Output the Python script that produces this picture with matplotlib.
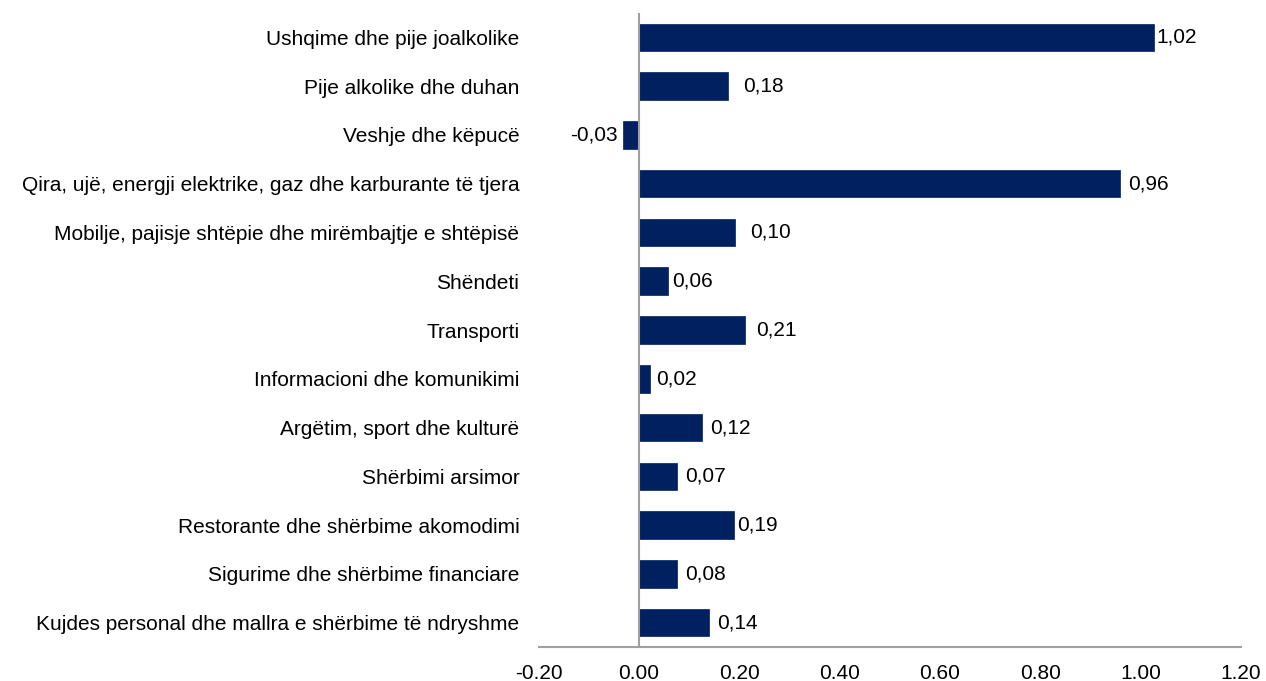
import matplotlib
matplotlib.use("Agg")
import matplotlib.pyplot as plt

categories = [
    "Ushqime dhe pije joalkolike",
    "Pije alkolike dhe duhan",
    "Veshje dhe këpucë",
    "Qira, ujë, energji elektrike, gaz dhe karburante të tjera",
    "Mobilje, pajisje shtëpie dhe mirëmbajtje e shtëpisë",
    "Shëndeti",
    "Transporti",
    "Informacioni dhe komunikimi",
    "Argëtim, sport dhe kulturë",
    "Shërbimi arsimor",
    "Restorante dhe shërbime akomodimi",
    "Sigurime dhe shërbime financiare",
    "Kujdes personal dhe mallra e shërbime të ndryshme",
]
# bar lengths as drawn
values = [1.026, 0.178, -0.0325, 0.96, 0.191, 0.057, 0.211, 0.021, 0.125, 0.075, 0.19, 0.076, 0.139]
# data labels as printed
value_labels = ["1,02", "0,18", "-0,03", "0,96", "0,10", "0,06", "0,21", "0,02", "0,12", "0,07", "0,19", "0,08", "0,14"]
xticks = [-0.20, 0.00, 0.20, 0.40, 0.60, 0.80, 1.00, 1.20]
xtick_labels = ["-0.20", "0.00", "0.20", "0.40", "0.60", "0.80", "1.00", "1.20"]

# label padding in points (layout only)
label_pads = [2.2, 10.6, 3.6, 5.8, 11.3, 3.3, 8.2, 5.1, 5.8, 6.0, 2.2, 6.0, 5.8]

FS = 15
plt.rcParams['font.family'] = ['Liberation Sans', 'DejaVu Sans']

fig = plt.figure(figsize=(12.66, 6.81), dpi=100)
x0, x1 = 538.7, 1240.8
ytop, ybot = 13, 647
ax = fig.add_axes([x0/1266, 1 - ybot/681, (x1-x0)/1266, (ybot-ytop)/681])

ypos = list(range(len(categories)))
bars = ax.barh(ypos, values, height=0.566, color="#002060", edgecolor="#002060", linewidth=0.5, zorder=2)

for b, v, lab, pad in zip(bars, values, value_labels, label_pads):
    y = b.get_y() + b.get_height() / 2
    if v >= 0:
        ax.annotate(lab, (v, y), xytext=(pad, 0), textcoords="offset points",
                    ha="left", va="center", fontsize=FS, color="black")
    else:
        ax.annotate(lab, (v, y), xytext=(-pad, 0), textcoords="offset points",
                    ha="right", va="center", fontsize=FS, color="black")

ax.set_xlim(-0.20, 1.20)
ax.set_ylim(len(categories) - 0.5, -0.5)
ax.set_xticks(xticks)
ax.set_xticklabels(xtick_labels, fontsize=FS)
ax.set_yticks(ypos)
ax.set_yticklabels(categories, fontsize=FS)
ax.tick_params(axis="both", length=0)
ax.tick_params(axis="y", pad=14)
ax.tick_params(axis="x", pad=12.5)

for s in ["top", "right", "left"]:
    ax.spines[s].set_visible(False)
ax.spines["bottom"].set_color("#a0a0a0")
ax.spines["bottom"].set_linewidth(1.5)
ax.axvline(0, color="#a0a0a0", linewidth=1.5, zorder=3)

fig.savefig("out.png", dpi=100)
